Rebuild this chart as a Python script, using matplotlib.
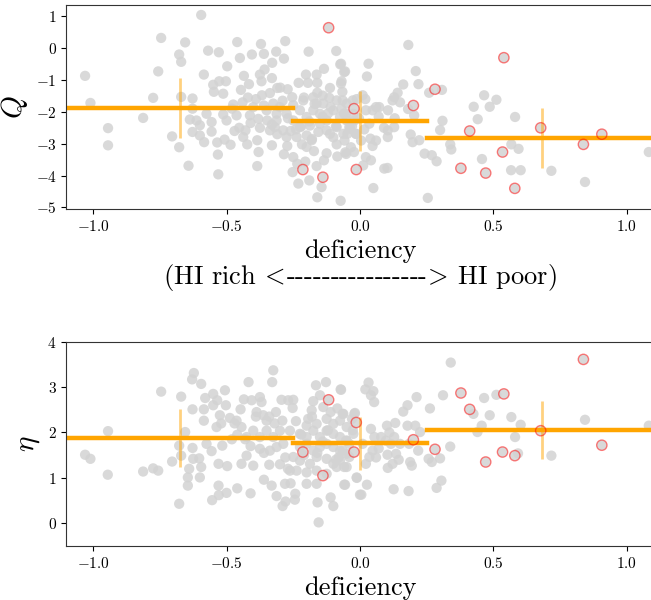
import numpy as np
import matplotlib
matplotlib.use('Agg')
import matplotlib.pyplot as plt

# Шрифты в стиле LaTeX
plt.rcParams['font.family'] = 'serif'
plt.rcParams['font.serif'] = ['cmr10']
plt.rcParams['mathtext.fontset'] = 'cm'
plt.rcParams['axes.formatter.use_mathtext'] = True

# Данные
# верхняя панель: серые точки (deficiency, Q)
q_grey_x = [-1.03, -1.01, -0.944, -0.944, -0.8125, -0.775, -0.756, -0.745, -0.704, -0.6775,
            -0.67, -0.655, -0.6775, -0.67, -0.6425, -0.6275, -0.595, -0.585, -0.569, -0.529,
            -0.4975, -0.46, -0.45, -0.405, -0.371, -0.36, -0.314, -0.28, -0.285, -0.329,
            -0.1925, -0.089, -0.074, -0.056, -0.135, -0.069, -0.55, -0.5275, -0.5025, -0.5475,
            -0.5125, -0.435, -0.416, -0.446, -0.375, -0.369, -0.3575, -0.33, -0.3675, -0.3375,
            -0.299, -0.271, -0.254, -0.23, -0.2025, -0.195, -0.1625, -0.16, -0.1125, -0.066,
            -0.14, -0.115, -0.0875, -0.0125, -0.6275, -0.6375, -0.6125, -0.6, -0.6275, -0.6,
            -0.584, -0.575, -0.556, -0.556, -0.535, -0.5325, -0.531, -0.5125, -0.5, -0.5075,
            -0.485, -0.475, -0.4625, -0.4525, -0.4375, -0.4225, -0.429, -0.4125, -0.4, -0.381,
            -0.375, -0.385, -0.38, -0.385, -0.3475, -0.3375, -0.33, -0.319, -0.3125, -0.2875,
            -0.285, -0.2725, -0.25, -0.2525, -0.235, -0.231, -0.2175, -0.205, -0.19, -0.181,
            -0.1725, -0.1625, -0.156, -0.144, -0.16, -0.125, -0.135, -0.1125, -0.0875, -0.085,
            -0.0725, -0.055, -0.0475, -0.0225, -0.015,
            -0.325, -0.3, -0.275, -0.25, -0.225, -0.2, -0.175, -0.15, -0.125, -0.1,
            -0.075, -0.05, -0.025, -0.25, -0.225, -0.1875, -0.15, -0.125, -0.0875, -0.0625,
            -0.0375, -0.05, -0.1375, -0.2125, -0.3125, -0.275, -0.2375, -0.2, -0.175, -0.1625,
            0.181, 0.032, 0.026, 0.209, 0.219, 0.162, 0.141, 0.128, 0.122, 0.259,
            0.307, 0.18, 0.203, 0.105, 0.072, 0.047, 0.309, 0.3, 0.19, 0.222,
            0.197, 0.104, 0.104, 0.128, 0.039, 0.047, 0.022, 0.041, 0.012, 0.091,
            0.103, 0.05, 0.242, 0.269, 0.287, 0.254, 0.338, 0.342, 0.426, 0.441,
            0.465, 0.486, 0.511, 0.581, 0.567, 0.594, 0.457, 0.566, 0.602, 0.717,
            0.843, 1.082, -0.059, -0.071, -0.071, -0.065, -0.052, -0.04, -0.058, -0.052,
            -0.027, -0.021, -0.034, -0.015, -0.004, 0.01, 0.004, 0.022, 0.06, 0.035,
            0.016,
            -0.48, -0.44, -0.41, -0.39, -0.35, -0.33, -0.29, -0.27, -0.24, -0.21,
            -0.19, -0.17, -0.14, -0.11, -0.09, -0.06, -0.03, -0.47, -0.42, -0.36,
            -0.31, -0.26, -0.22, -0.18, -0.16, -0.12, -0.1, -0.07, -0.2, -0.31,
            0.07, 0.09, 0.13, 0.15, 0.02, 0.06]
q_grey_y = [-0.87, -1.72, -2.51, -3.05, -2.19, -1.56, -0.73, 0.32, -2.77, -0.2,
            -0.43, 0.18, -3.11, -1.53, -3.69, -1.58, 1.04, -0.83, -0.08, -0.13,
            -0.57, 0.19, -0.31, -0.2, 0.13, -0.18, -0.11, 0.22, -0.33, -0.46,
            -0.11, -0.09, -0.51, -0.73, -0.65, -1.04, -1.15, -1.04, -1.04, -1.37,
            -1.43, -0.87, -1.13, -1.31, -0.83, -1.04, -0.67, -0.94, -1.48, -1.41,
            -1.24, -1.29, -1.54, -1.09, -0.83, -1.09, -0.83, -1.09, -1.25, -1.37,
            -1.49, -1.56, -1.64, -1.6, -1.9, -2.24, -2.27, -2.42, -2.63, -2.74,
            -2.95, -2.06, -2.32, -2.62, -2.96, -3.34, -3.96, -2.08, -2.27, -2.87,
            -3.03, -1.77, -2.11, -2.5, -2.79, -3.02, -2.58, -2.11, -1.85, -2.22,
            -2.5, -2.89, -3.26, -3.7, -2.27, -2.58, -3.05, -2.48, -2.06, -2.58,
            -3.33, -3.07, -3.42, -3.89, -3.63, -4.25, -3.02, -3.56, -4.15, -2.89,
            -3.23, -3.7, -2.63, -4.36, -4.68, -3.3, -3.52, -2.69, -3.02, -3.4,
            -4.79, -3.27, -2.69, -3.26, -2.69,
            -1.74, -1.85, -2.06, -1.79, -1.95, -2.16, -1.95, -2.06, -2.27, -1.95,
            -2.16, -2.27, -2.06, -2.27, -2.48, -2.43, -2.37, -2.58, -2.48, -2.69,
            -2.53, -1.74, -1.74, -1.64, -2.27, -2.79, -2.79, -2.74, -1.54, -1.74,
            0.1, -0.49, -0.89, -0.72, -1.13, -1.14, -1.4, -1.54, -1.64, -1.4,
            -1.31, -1.91, -2.11, -1.95, -1.85, -1.95, -2.28, -2.57, -2.71, -2.89,
            -2.95, -2.58, -2.79, -2.48, -2.84, -3.07, -3.42, -3.52, -3.68, -3.78,
            -3.76, -4.39, -3.31, -3.36, -3.55, -4.7, -3.02, -3.18, -1.84, -2.23,
            -1.48, -1.84, -1.62, -2.16, -3.02, -3.16, -3.48, -3.83, -3.83, -3.85,
            -4.2, -3.26, -0.75, -0.49, -1.11, -1.64, -2.06, -2.48, -2.9, -3.32,
            -1.64, -2.27, -3.11, -2.69, -2.2, -1.48, -2.9, -1.95, -1.85, -2.37,
            -2.55,
            -1.9, -1.7, -2.35, -1.6, -1.95, -2.4, -1.65, -2.2, -2.55, -1.55,
            -2.3, -1.75, -2.15, -1.85, -2.45, -2.05, -2.45, -2.6, -1.55, -1.8,
            -2.7, -2.6, -2.45, -2.85, -1.4, -2.05, -2.8, -1.9, -3.1, -1.25,
            -2.15, -2.5, -2.2, -1.7, -1.6, -2.9]

# нижняя панель: серые точки (deficiency, eta)
e_grey_x = [-1.03, -1.01, -0.944, -0.945, -0.8125, -0.775, -0.756, -0.745, -0.704, -0.6775,
            -0.6775, -0.67, -0.67, -0.655, -0.645, -0.645, -0.64, -0.6275, -0.6275, -0.629,
            -0.6225, -0.595, -0.625, -0.6025, -0.595, -0.6, -0.585, -0.585, -0.58, -0.55,
            -0.535, -0.55, -0.506, -0.5025, -0.575, -0.556, -0.5375, -0.525, -0.516, -0.53,
            -0.4975, -0.53, -0.554, -0.529, -0.5, -0.46, -0.41, -0.4875, -0.4625, -0.4475,
            -0.435, -0.4175, -0.406, -0.375, -0.369, -0.3875, -0.3625, -0.35, -0.325, -0.329,
            -0.315, -0.294, -0.269, -0.25, -0.2525, -0.291, -0.444, -0.425, -0.4, -0.375,
            -0.35, -0.325, -0.3, -0.2875, -0.2625, -0.3125, -0.3375, -0.375, -0.425, -0.444,
            -0.4, -0.34, -0.36, -0.331, -0.3125, -0.29, -0.279, -0.281, -0.26, -0.2425,
            -0.244, -0.2625, -0.2375, -0.2, -0.1625, -0.159, -0.155, -0.11, -0.1, -0.056,
            -0.0125, 0.0, -0.165, -0.1275, -0.0725, -0.15, -0.175, -0.181, -0.1375, -0.085,
            -0.0625, -0.019, -0.194, -0.1625, -0.125, -0.1, -0.075, -0.05, -0.025,
            -0.225, -0.2, -0.175, -0.15, -0.125, -0.1, -0.075, -0.05, -0.225, -0.2,
            -0.175, -0.15, -0.125, -0.1, -0.075, -0.05, -0.25, -0.225, -0.1875, -0.1625,
            -0.125, -0.1, -0.075, -0.05, -0.2, -0.1625, -0.125, -0.0875,
            0.34, 0.311, 0.212, 0.178, 0.162, 0.262, 0.032, 0.02, 0.05, 0.041,
            0.053, -0.071, 0.465, 0.511, 0.425, 0.486, 0.456, 0.44, 0.567, 0.602,
            0.581, 0.592, 0.717, 0.843, 1.082, 0.338, 0.3, 0.257, 0.269, 0.305,
            0.287, 0.182, 0.126, 0.005, 0.026, -0.059, -0.012, 0.104, 0.122, 0.145,
            0.188, 0.194, 0.218, 0.103, 0.135, 0.101, 0.132, 0.178, 0.207, 0.225,
            0.079, 0.097, 0.116, 0.128, 0.184, 0.041, 0.047, 0.035, 0.022, -0.027,
            -0.052, -0.065, -0.04, -0.059, -0.021, -0.065, 0.01, 0.054,
            -0.47, -0.43, -0.39, -0.36, -0.32, -0.28, -0.24, -0.21, -0.18, -0.14,
            -0.11, -0.08, -0.04, -0.46, -0.41, -0.34, -0.3, -0.22, -0.16, -0.12,
            -0.09, -0.03, 0.07, 0.11, 0.15, 0.06, -0.52, -0.48, -0.27, -0.2]
e_grey_y = [1.51, 1.42, 2.03, 1.07, 1.14, 1.21, 1.16, 2.9, 1.36, 0.43,
            1.71, 1.49, 2.79, 2.01, 0.83, 1.01, 1.2, 1.66, 2.51, 3.17,
            3.31, 3.07, 1.42, 1.43, 1.24, 1.01, 2.51, 2.26, 2.76, 2.85,
            2.71, 2.6, 2.93, 2.6, 1.75, 1.59, 2.12, 2.38, 1.71, 1.31,
            1.26, 0.83, 0.51, 0.62, 0.67, 0.77, 0.66, 2.32, 2.26, 2.51,
            2.73, 3.11, 2.71, 2.78, 2.67, 2.45, 2.38, 2.26, 3.37, 3.11,
            2.45, 2.72, 2.71, 2.72, 2.54, 2.26, 2.12, 1.9, 2.04, 1.9,
            2.04, 1.9, 2.04, 1.75, 2.04, 1.68, 1.6, 1.64, 1.49, 1.31,
            1.27, 1.29, 0.96, 0.83, 0.6, 0.38, 0.48, 0.87, 0.88, 0.65,
            0.52, 1.16, 1.16, 0.87, 0.87, 0.46, 0.02, 0.57, 0.38, 0.85,
            1.01, 0.63, 3.04, 3.11, 2.95, 2.82, 2.69, 2.49, 2.56, 2.53,
            2.41, 2.43, 2.3, 2.19, 2.3, 2.19, 2.26, 2.12, 1.97,
            1.97, 1.9, 2.04, 1.9, 2.04, 1.97, 1.9, 1.82, 1.68, 1.75,
            1.6, 1.68, 1.75, 1.68, 1.6, 1.53, 1.46, 1.38, 1.31, 1.46,
            1.42, 1.31, 1.38, 1.24, 1.12, 1.16, 1.09, 1.24,
            3.54, 2.82, 2.78, 2.6, 2.46, 2.53, 3.1, 2.95, 2.91, 2.82,
            2.67, 2.94, 2.76, 2.83, 2.41, 2.38, 2.15, 2.01, 2.34, 2.17,
            1.9, 1.54, 1.49, 2.28, 2.15, 1.69, 1.43, 1.42, 1.35, 0.94,
            0.78, 0.71, 0.75, 0.63, 0.85, 0.85, 1.0, 1.22, 1.31, 1.4,
            1.35, 1.27, 1.6, 1.51, 1.53, 2.15, 2.21, 2.15, 2.15, 2.01,
            1.9, 1.82, 1.75, 1.9, 1.75, 2.08, 1.6, 1.46, 1.31, 2.05,
            1.82, 1.6, 1.46, 1.24, 2.41, 2.41, 1.75, 1.9,
            2.2, 1.85, 2.35, 1.55, 2.2, 1.45, 2.25, 1.5, 2.35, 1.8,
            2.45, 1.45, 1.75, 1.95, 1.7, 2.35, 1.3, 1.95, 1.55, 2.05,
            1.4, 2.3, 1.65, 2.0, 1.75, 1.45, 2.2, 1.85, 1.2, 2.15]

# выделенные объекты (красные кружки), одинаковые x на обеих панелях
red_x = [-0.1175, -0.0225, -0.214, -0.139, -0.014, 0.539, 0.281, 0.2,
         0.411, 0.677, 0.906, 0.837, 0.534, 0.378, 0.471, 0.58]
red_q = [0.64, -1.9, -3.81, -4.05, -3.81, -0.30, -1.29, -1.8,
         -2.6, -2.5, -2.7, -3.02, -3.26, -3.77, -3.92, -4.4]
red_eta = [2.72, 1.57, 1.57, 1.05, 2.22, 2.85, 1.63, 1.84,
           2.51, 2.04, 1.72, 3.61, 1.57, 2.87, 1.35, 1.49]

# медианы по бинам
bin_edges = [-1.2, -0.25, 0.25, 1.2]
bin_centers = [-0.676, 0.0, 0.68]
q_median = [-1.88, -2.28, -2.83]
q_err = [0.94, 0.94, 0.94]
eta_median = [1.88, 1.76, 2.05]
eta_err = [0.64, 0.58, 0.64]

fig = plt.figure(figsize=(6.51, 6.0), dpi=100)
ax1 = fig.add_axes([0.102, 0.651, 0.902, 0.3405])
ax2 = fig.add_axes([0.102, 0.09, 0.902, 0.3405])


def draw_panel(ax, gx, gy, ry, med, err):
    ax.scatter(gx, gy, s=55, color='lightgray', alpha=0.85, edgecolors='none', zorder=1)
    ax.scatter(red_x, ry, s=55, color='lightgray', alpha=0.85, edgecolors='none', zorder=1)
    ax.scatter(red_x, ry, s=55, facecolors='none', edgecolors='red', alpha=0.5,
               linewidths=1.0, zorder=3)
    for i in range(len(med)):
        ax.plot([bin_edges[i], bin_edges[i + 1]], [med[i], med[i]], color='orange', lw=3.2, zorder=2)
    ax.errorbar(bin_centers, med, yerr=err, fmt='none', ecolor='orange', alpha=0.5,
                elinewidth=2, zorder=2)
    ax.set_xlim(-1.1, 1.1)
    ax.set_xticks([-1.0, -0.5, 0.0, 0.5, 1.0])
    ax.tick_params(labelsize=11)
    for s in ax.spines.values():
        s.set_color('#333333')


draw_panel(ax1, q_grey_x, q_grey_y, red_q, q_median, q_err)
ax1.set_ylim(-5.06, 1.35)
ax1.set_yticks([-5, -4, -3, -2, -1, 0, 1])
ax1.set_ylabel(r'$Q$', fontsize=21)
ax1.set_xlabel('deficiency\n(HI rich $\\!<\\!$----------------$\\!>\\!$ HI poor)',
               fontsize=19, linespacing=0.92)

draw_panel(ax2, e_grey_x, e_grey_y, red_eta, eta_median, eta_err)
ax2.set_ylim(-0.5, 4.0)
ax2.set_yticks([0, 1, 2, 3, 4])
ax2.set_ylabel(r'$\eta$', fontsize=21)
ax2.set_xlabel('deficiency', fontsize=19)

plt.savefig('out.png', dpi=100)
